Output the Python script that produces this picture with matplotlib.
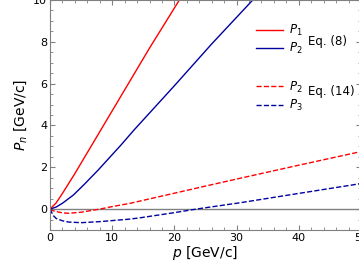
import numpy as np
import matplotlib
matplotlib.use("Agg")
import matplotlib.pyplot as plt
from matplotlib.lines import Line2D
from matplotlib.ticker import MultipleLocator

# values
p_eq8_p1 = [0, 1, 2, 4, 6, 8.3, 11.4, 16, 20.8, 22]
P1_eq8 = [0, 0.3, 0.75, 1.7, 2.7, 3.85, 5.4, 7.7, 10.0, 10.6]

p_eq8_p2 = [0, 1, 2, 3.75, 5.5, 7.75, 11.4, 13.5, 20, 26, 32.6, 34]
P2_eq8 = [0, 0.1, 0.28, 0.67, 1.18, 1.87, 3.06, 3.78, 5.9, 7.9, 10.0, 10.5]

p_eq14_p2 = [0, 0.5, 1, 2, 3, 5, 8, 10, 12.8, 14.4, 20, 25, 30.5, 40, 50]
P2_eq14 = [0, -0.08, -0.12, -0.18, -0.2, -0.15, 0, 0.12, 0.27, 0.38, 0.76, 1.1, 1.47, 2.1, 2.75]

p_eq14_p3 = [0, 0.5, 1, 2, 3, 5, 8, 10, 12.8, 14.4, 20, 23.5, 30.5, 40, 50]
P3_eq14 = [0, -0.3, -0.45, -0.56, -0.62, -0.65, -0.6, -0.55, -0.48, -0.42, -0.17, 0, 0.3, 0.75, 1.22]

RED = "#ff0000"
BLUE = "#0000a0"
GRAY = "#808080"

fig = plt.figure(figsize=(3.59, 2.64), dpi=100)
ax = fig.add_axes([50 / 359, 34 / 264, 311 / 359, 230 / 264])

ax.axhline(0, color=GRAY, lw=1.0, zorder=1)
ax.plot(p_eq8_p1, P1_eq8, color=RED, lw=1.0)
ax.plot(p_eq8_p2, P2_eq8, color=BLUE, lw=1.0)
ax.plot(p_eq14_p2, P2_eq14, color=RED, lw=1.0, ls="--")
ax.plot(p_eq14_p3, P3_eq14, color=BLUE, lw=1.0, ls="--")

ax.set_xlim(0, 50)
ax.set_ylim(-1, 10)
ax.xaxis.set_major_locator(MultipleLocator(10))
ax.xaxis.set_minor_locator(MultipleLocator(2))
ax.yaxis.set_major_locator(MultipleLocator(2))
ax.yaxis.set_minor_locator(MultipleLocator(0.5))
ax.tick_params(which="both", direction="in", top=True, right=True,
               color=GRAY, labelsize=8, pad=2)
ax.tick_params(which="major", length=3.6)
ax.tick_params(which="minor", length=2)
for s in ax.spines.values():
    s.set_color(GRAY)

ax.set_xlabel("$p$ [GeV/c]", fontsize=10, labelpad=1)
ax.set_ylabel("$P_n$ [GeV/c]", fontsize=10, labelpad=3)

h8 = [Line2D([], [], color=RED, lw=1.0), Line2D([], [], color=BLUE, lw=1.0)]
leg1 = ax.legend(h8, ["$P_1$", "$P_2$"], frameon=False, fontsize=8.5,
                 loc="upper left", bbox_to_anchor=(0.627, 0.945),
                 handlelength=2.3, handletextpad=0.5, labelspacing=0.25)
ax.add_artist(leg1)
h14 = [Line2D([], [], color=RED, lw=1.0, ls="--"), Line2D([], [], color=BLUE, lw=1.0, ls="--")]
ax.legend(h14, ["$P_2$", "$P_3$"], frameon=False, fontsize=8.5,
          loc="upper left", bbox_to_anchor=(0.627, 0.70),
          handlelength=2.3, handletextpad=0.5, labelspacing=0.25)
ax.text(0.83, 0.818, "Eq. (8)", transform=ax.transAxes, fontsize=8.5, va="center")
ax.text(0.83, 0.600, "Eq. (14)", transform=ax.transAxes, fontsize=8.5, va="center")

fig.savefig("out.png", dpi=100)
